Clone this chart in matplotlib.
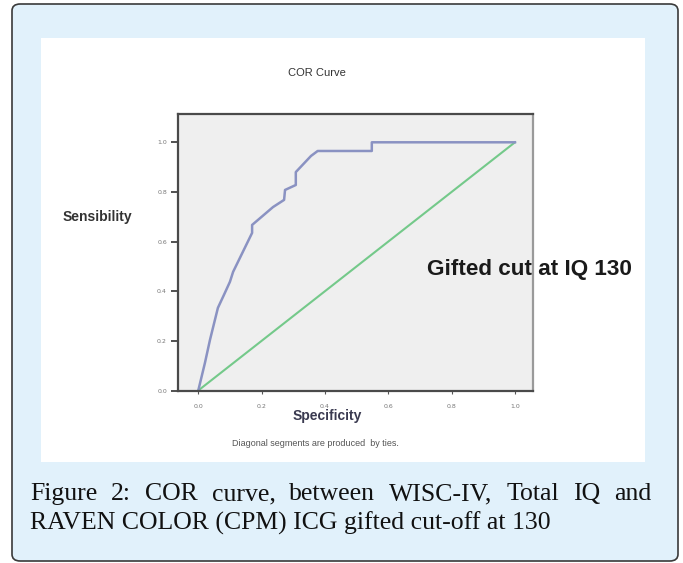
import matplotlib.pyplot as plt
from matplotlib.patches import FancyBboxPatch, Rectangle

# ROC curve points (1 - specificity, sensitivity)
spec = [0.0, 0.021, 0.037, 0.062, 0.081, 0.100, 0.110, 0.170, 0.170, 0.236,
        0.271, 0.274, 0.308, 0.308, 0.356, 0.377, 0.548, 0.548, 1.0]
sens = [0.0, 0.111, 0.204, 0.333, 0.385, 0.438, 0.478, 0.635, 0.667, 0.739,
        0.768, 0.808, 0.828, 0.880, 0.945, 0.965, 0.965, 1.0, 1.0]
ref_x = [0.0, 1.0]
ref_y = [0.0, 1.0]
ticks = [0.0, 0.2, 0.4, 0.6, 0.8, 1.0]
tick_labels = ['0.0', '0.2', '0.4', '0.6', '0.8', '1.0']

W, H = 683, 563


def fx(px):
    return px / W


def fy(py):
    return 1 - py / H


fig = plt.figure(figsize=(W / 100, H / 100), dpi=100)
fig.patch.set_facecolor('white')

# outer rounded box and white panel
box = FancyBboxPatch((fx(12), fy(561)), fx(678) - fx(12), fy(4) - fy(561),
                     boxstyle='round,pad=0,rounding_size=0.012',
                     transform=fig.transFigure, facecolor='#e1f1fb',
                     edgecolor='#3a3a3a', linewidth=1.2, zorder=0)
fig.patches.append(box)
panel = Rectangle((fx(41), fy(462)), fx(645) - fx(41), fy(38) - fy(462),
                  transform=fig.transFigure, facecolor='white',
                  edgecolor='none', zorder=0.5)
fig.patches.append(panel)

# axes
ax = fig.add_axes([fx(178), fy(391), fx(533) - fx(178), fy(114) - fy(391)])
ax.set_zorder(2)
ax.set_facecolor('#efefef')
ax.plot(ref_x, ref_y, color='#74c98a', linewidth=1.5)
ax.plot(spec, sens, color='#8a92c2', linewidth=1.8)
ax.set_xlim(-0.064, 1.057)
ax.set_ylim(-0.002, 1.114)

ax.set_yticks(ticks)
ax.set_yticklabels(tick_labels, fontsize=4.5, color='#777777')
ax.set_xticks(ticks)
ax.set_xticklabels(tick_labels, fontsize=4.5, color='#777777')
ax.tick_params(axis='y', length=5, width=1.2, color='#333333', pad=3)
ax.tick_params(axis='x', length=2, width=0.8, color='#555555', pad=7)

for side in ['top', 'left', 'bottom']:
    ax.spines[side].set_color('#4a4a4a')
    ax.spines[side].set_linewidth(1.6)
ax.spines['right'].set_color('#9a9a9a')
ax.spines['right'].set_linewidth(1.6)

# texts of the SPSS chart
fig.text(fx(317), fy(73), 'COR Curve', ha='center', va='center',
         fontsize=8, color='#333333', family='Liberation Sans')
fig.text(fx(63), fy(217), 'Sensibility', ha='left', va='center',
         fontsize=10, color='#333333', family='Liberation Sans', weight='bold')
fig.text(fx(327), fy(416), 'Specificity', ha='center', va='center',
         fontsize=10, color='#3a3a50', family='Liberation Sans', weight='bold')
fig.text(fx(315), fy(443), 'Diagonal segments are produced  by ties.',
         ha='center', va='center', fontsize=6.5, color='#555555',
         family='Liberation Sans')
fig.text(fx(427), fy(269), 'Gifted cut at IQ 130', ha='left', va='center',
         fontsize=16.2, color='#1a1a1a', family='Liberation Sans', weight='bold',
         zorder=5)

# caption, first line justified
line1 = 'Figure 2: COR curve, between WISC-IV, Total IQ and'.split(' ')
line2 = 'RAVEN COLOR (CPM) ICG gifted cut-off at 130'
cap_font = dict(family='Liberation Serif', fontsize=18, color='#111111')

fig.canvas.draw()
renderer = fig.canvas.get_renderer()

t2 = fig.text(fx(30), fy(530), line2, ha='left', va='baseline', **cap_font)
w2 = t2.get_window_extent(renderer).width
cap_font['fontsize'] = 18 * 520 / w2
t2.set_fontsize(cap_font['fontsize'])

words = []
total = 0
for w in line1:
    t = fig.text(0, fy(500), w, ha='left', va='baseline', **cap_font)
    width = t.get_window_extent(renderer).width
    words.append((t, width))
    total += width
gap = (651 - 30 - total) / (len(words) - 1)
x = 30
for t, width in words:
    t.set_x(fx(x))
    x += width + gap

plt.savefig('out.png', dpi=100)
